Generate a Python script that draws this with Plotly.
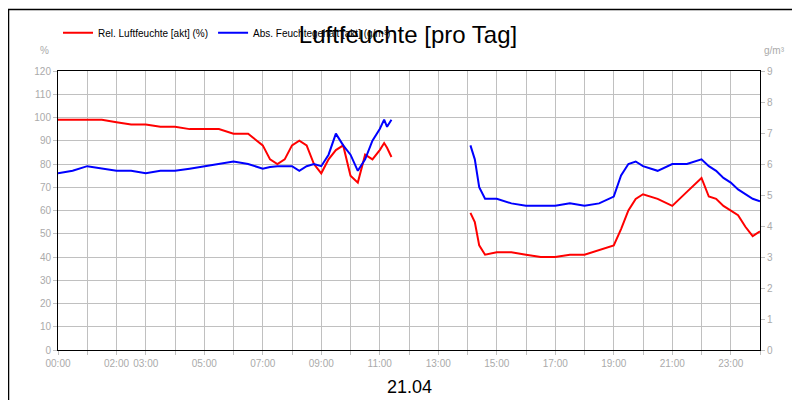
import plotly.graph_objects as go

# Zeit in Stunden (21.04)
zeit = [0, 0.5, 1, 1.5, 2, 2.5, 3, 3.5, 4, 4.5, 5, 5.5, 6, 6.5, 7, 7.25, 7.5, 7.75,
        8, 8.25, 8.5, 8.75, 9, 9.25, 9.5, 9.75, 10, 10.25, 10.5, 10.75, 11, 11.15, 11.25, 11.4,
        12.5,
        14.1, 14.25, 14.4, 14.6, 15, 15.5, 16, 16.5, 17, 17.5, 18, 18.5, 19, 19.25, 19.5, 19.75,
        20, 20.5, 21, 21.5, 22, 22.25, 22.5, 22.75, 23, 23.25, 23.5, 23.75, 24]

rel_feuchte = [99, 99, 99, 99, 98, 97, 97, 96, 96, 95, 95, 95, 93, 93, 88, 82, 80, 82,
               88, 90, 88, 80, 76, 82, 86, 88, 75, 72, 84, 82, 86, 89, 87, 83,
               None,
               59, 55, 45, 41, 42, 42, 41, 40, 40, 41, 41, 43, 45, 52, 60, 65,
               67, 65, 62, 68, 74, 66, 65, 62, 60, 58, 53, 49, 51]

abs_feuchte = [5.7, 5.78, 5.93, 5.85, 5.78, 5.78, 5.7, 5.78, 5.78, 5.85, 5.93, 6.0, 6.08, 6.0, 5.85, 5.9, 5.93, 5.93,
               5.93, 5.78, 5.93, 6.0, 5.93, 6.3, 6.98, 6.6, 6.3, 5.78, 6.15, 6.75, 7.13, 7.43, 7.2, 7.43,
               None,
               6.6, 6.15, 5.25, 4.88, 4.88, 4.73, 4.65, 4.65, 4.65, 4.73, 4.65, 4.73, 4.95, 5.63, 6.0, 6.08,
               5.93, 5.78, 6.0, 6.0, 6.15, 5.93, 5.78, 5.55, 5.4, 5.18, 5.03, 4.88, 4.8]

stunden = list(range(25))
stunden_text = ["00:00", "", "02:00", "03:00", "", "05:00", "", "07:00", "", "09:00", "", "11:00", "",
                "13:00", "", "15:00", "", "17:00", "", "19:00", "", "21:00", "", "23:00", ""]

grau = "#aaaaaa"
fig = go.Figure()
fig.add_trace(go.Scatter(x=zeit, y=rel_feuchte, mode="lines", name="Rel. Luftfeuchte [akt] (%)",
                         line=dict(color="#ff0000", width=2), connectgaps=False))
fig.add_trace(go.Scatter(x=zeit, y=abs_feuchte, mode="lines", name="Abs. Feuchtegehalt [akt] (g/m³)",
                         line=dict(color="#0000ff", width=2), yaxis="y2", connectgaps=False))

fig.update_layout(
    width=800, height=400,
    margin=dict(l=50, r=48, t=63, b=58, autoexpand=False),
    paper_bgcolor="white", plot_bgcolor="white",
    font=dict(family="Liberation Sans, Arial", color=grau, size=10),
    title=dict(text="Luftfeuchte [pro Tag]", x=0.5, xanchor="center", y=0.955, yref="container",
               font=dict(size=24, color="black")),
    showlegend=True,
    legend=dict(orientation="h", x=0.0, y=1.085, xanchor="left", yanchor="bottom",
                font=dict(size=10, color="black"), itemwidth=30, tracegroupgap=0),
    xaxis=dict(range=[0, 24], tickvals=stunden, ticktext=stunden_text, showgrid=True,
               gridcolor="#c0c0c0", ticks="outside", ticklen=4, tickcolor="#c0c0c0",
               showline=True, linecolor="black", mirror=True, zeroline=False, automargin=False),
    yaxis=dict(range=[0, 120], dtick=10, showgrid=True, gridcolor="#c0c0c0",
               ticks="outside", ticklen=4, tickcolor="#c0c0c0", automargin=False,
               showline=True, linecolor="black", mirror=True, zeroline=False),
    yaxis2=dict(range=[0, 9], dtick=1, overlaying="y", side="right", showgrid=False, automargin=False,
                ticks="outside", ticklen=4, tickcolor="#c0c0c0", zeroline=False),
    annotations=[
        dict(text="%", x=-0.01, y=1.1, xref="paper", yref="paper", showarrow=False,
             xanchor="right", font=dict(size=10, color=grau)),
        dict(text="g/m³", x=1.003, y=1.1, xref="paper", yref="paper", showarrow=False,
             xanchor="left", font=dict(size=10, color=grau)),
        dict(text="21.04", x=0.5, y=-0.09, xref="paper", yref="paper", showarrow=False,
             yanchor="top", font=dict(size=18, color="black")),
    ],
    shapes=[dict(type="rect", xref="paper", yref="paper", x0=-0.0705, x1=1.067,
                 y0=-0.204, y1=1.22, line=dict(color="black", width=1.5))],
)

fig.write_html("out.html")
